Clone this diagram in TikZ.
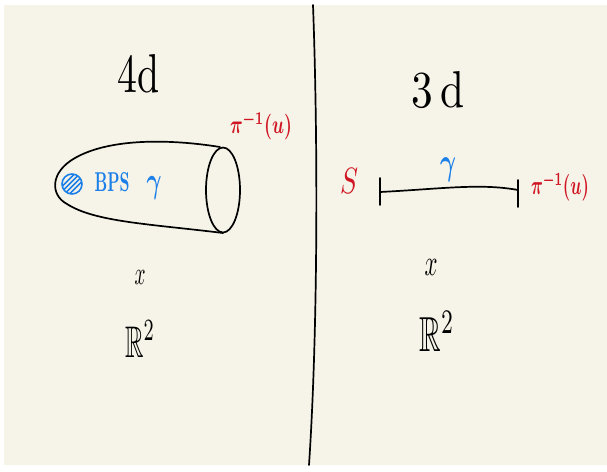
\documentclass[tikz,border=0pt]{standalone}
\usepackage{amsmath}
\usepackage{amssymb}
\usepackage{graphicx}
\usetikzlibrary{shapes.geometric,calc}
\definecolor{paper}{RGB}{246,244,232}
\definecolor{inkred}{RGB}{208,22,36}
\definecolor{inkblue}{RGB}{28,128,232}
\tikzset{
  ink/.style={line width=1.7pt, line cap=round, line join=round},
  lbl/.style={inner sep=0pt, outer sep=0pt},
}
\begin{document}
\begin{tikzpicture}[x=1pt,y=-1pt]
\useasboundingbox (0,0) rectangle (607,471);
\fill[white] (0,0) rectangle (607,471);
\fill[paper] (4,5) rectangle (607,465);
% divider
\coordinate (dtop) at (313,5);
\coordinate (dbot) at (309,465);
\draw[ink] (dtop) .. controls (318,140) and (318,330) .. (dbot);
% titles
\node[lbl] (t4) at (139,74) {\resizebox{42pt}{38pt}{4d}};
\node[lbl] (t3) at (438,90) {\resizebox{53pt}{36pt}{3\,d}};
% 4d tube
\coordinate (etop) at (220,147);
\coordinate (ebot) at (223,233);
\draw[ink] (etop) .. controls (170,139) and (110,138) .. (75,158)
  .. controls (50,172) and (50,195) .. (67,204)
  .. controls (95,222) and (150,224) .. (ebot);
\node[ink, draw, ellipse, minimum width=34pt, minimum height=85pt, inner sep=0pt] (rim) at (223,190) {};
% BPS hatched disc
\node[draw=inkblue, line width=1.6pt, circle, minimum size=20pt, inner sep=0pt] (bps) at (72,184) {};
\begin{scope}
  \clip (72,184) circle (9.5pt);
  \foreach \d in {-7.5,-2.5,2.5,7.5} {
    \draw[inkblue, line width=1.6pt] ($(72,184)+(\d,0)+(-10,10)$) -- ($(72,184)+(\d,0)+(10,-10)$);
  }
\end{scope}
\node[lbl, text=inkblue] (bpstxt) at (112,182) {\resizebox{35pt}{19pt}{\bfseries BPS}};
\node[lbl, text=inkblue] (g4) at (154,188) {\resizebox*{15pt}{23pt}{$\boldsymbol{\gamma}$}};
\node[lbl, text=inkred] (pi4) at (261,126) {\resizebox*{62pt}{28pt}{$\boldsymbol{\pi^{-1}(u)}$}};
% 3d segment
\node[lbl, text=inkred] (S) at (349,181) {\resizebox{18pt}{25pt}{$S$}};
\coordinate (l1) at (380,178);
\coordinate (l2) at (380,205);
\coordinate (r1) at (518,180);
\coordinate (r2) at (518,207);
\coordinate (lm) at (380,192);
\coordinate (rm) at (518,190);
\draw[ink] (l1) -- (l2);
\draw[ink] (r1) -- (r2);
\draw[ink] (lm) .. controls (440,189) and (480,183) .. (rm);
\node[lbl, text=inkblue] (g3) at (448,170) {\resizebox*{16pt}{24pt}{$\boldsymbol{\gamma}$}};
\node[lbl, text=inkred] (pi3) at (560,187) {\resizebox*{58pt}{29pt}{$\boldsymbol{\pi^{-1}(u)}$}};
% x and R^2
\node[lbl] (x4) at (140,277) {\resizebox{11pt}{14pt}{$x$}};
\node[lbl] (x3) at (431,267) {\resizebox{13pt}{16pt}{$x$}};
\node[lbl] (R4) at (140,339) {\resizebox{30pt}{36pt}{$\mathbb{R}^2$}};
\node[lbl] (R3) at (437,331) {\resizebox{35pt}{40pt}{$\mathbb{R}^2$}};
\end{tikzpicture}
\end{document}
